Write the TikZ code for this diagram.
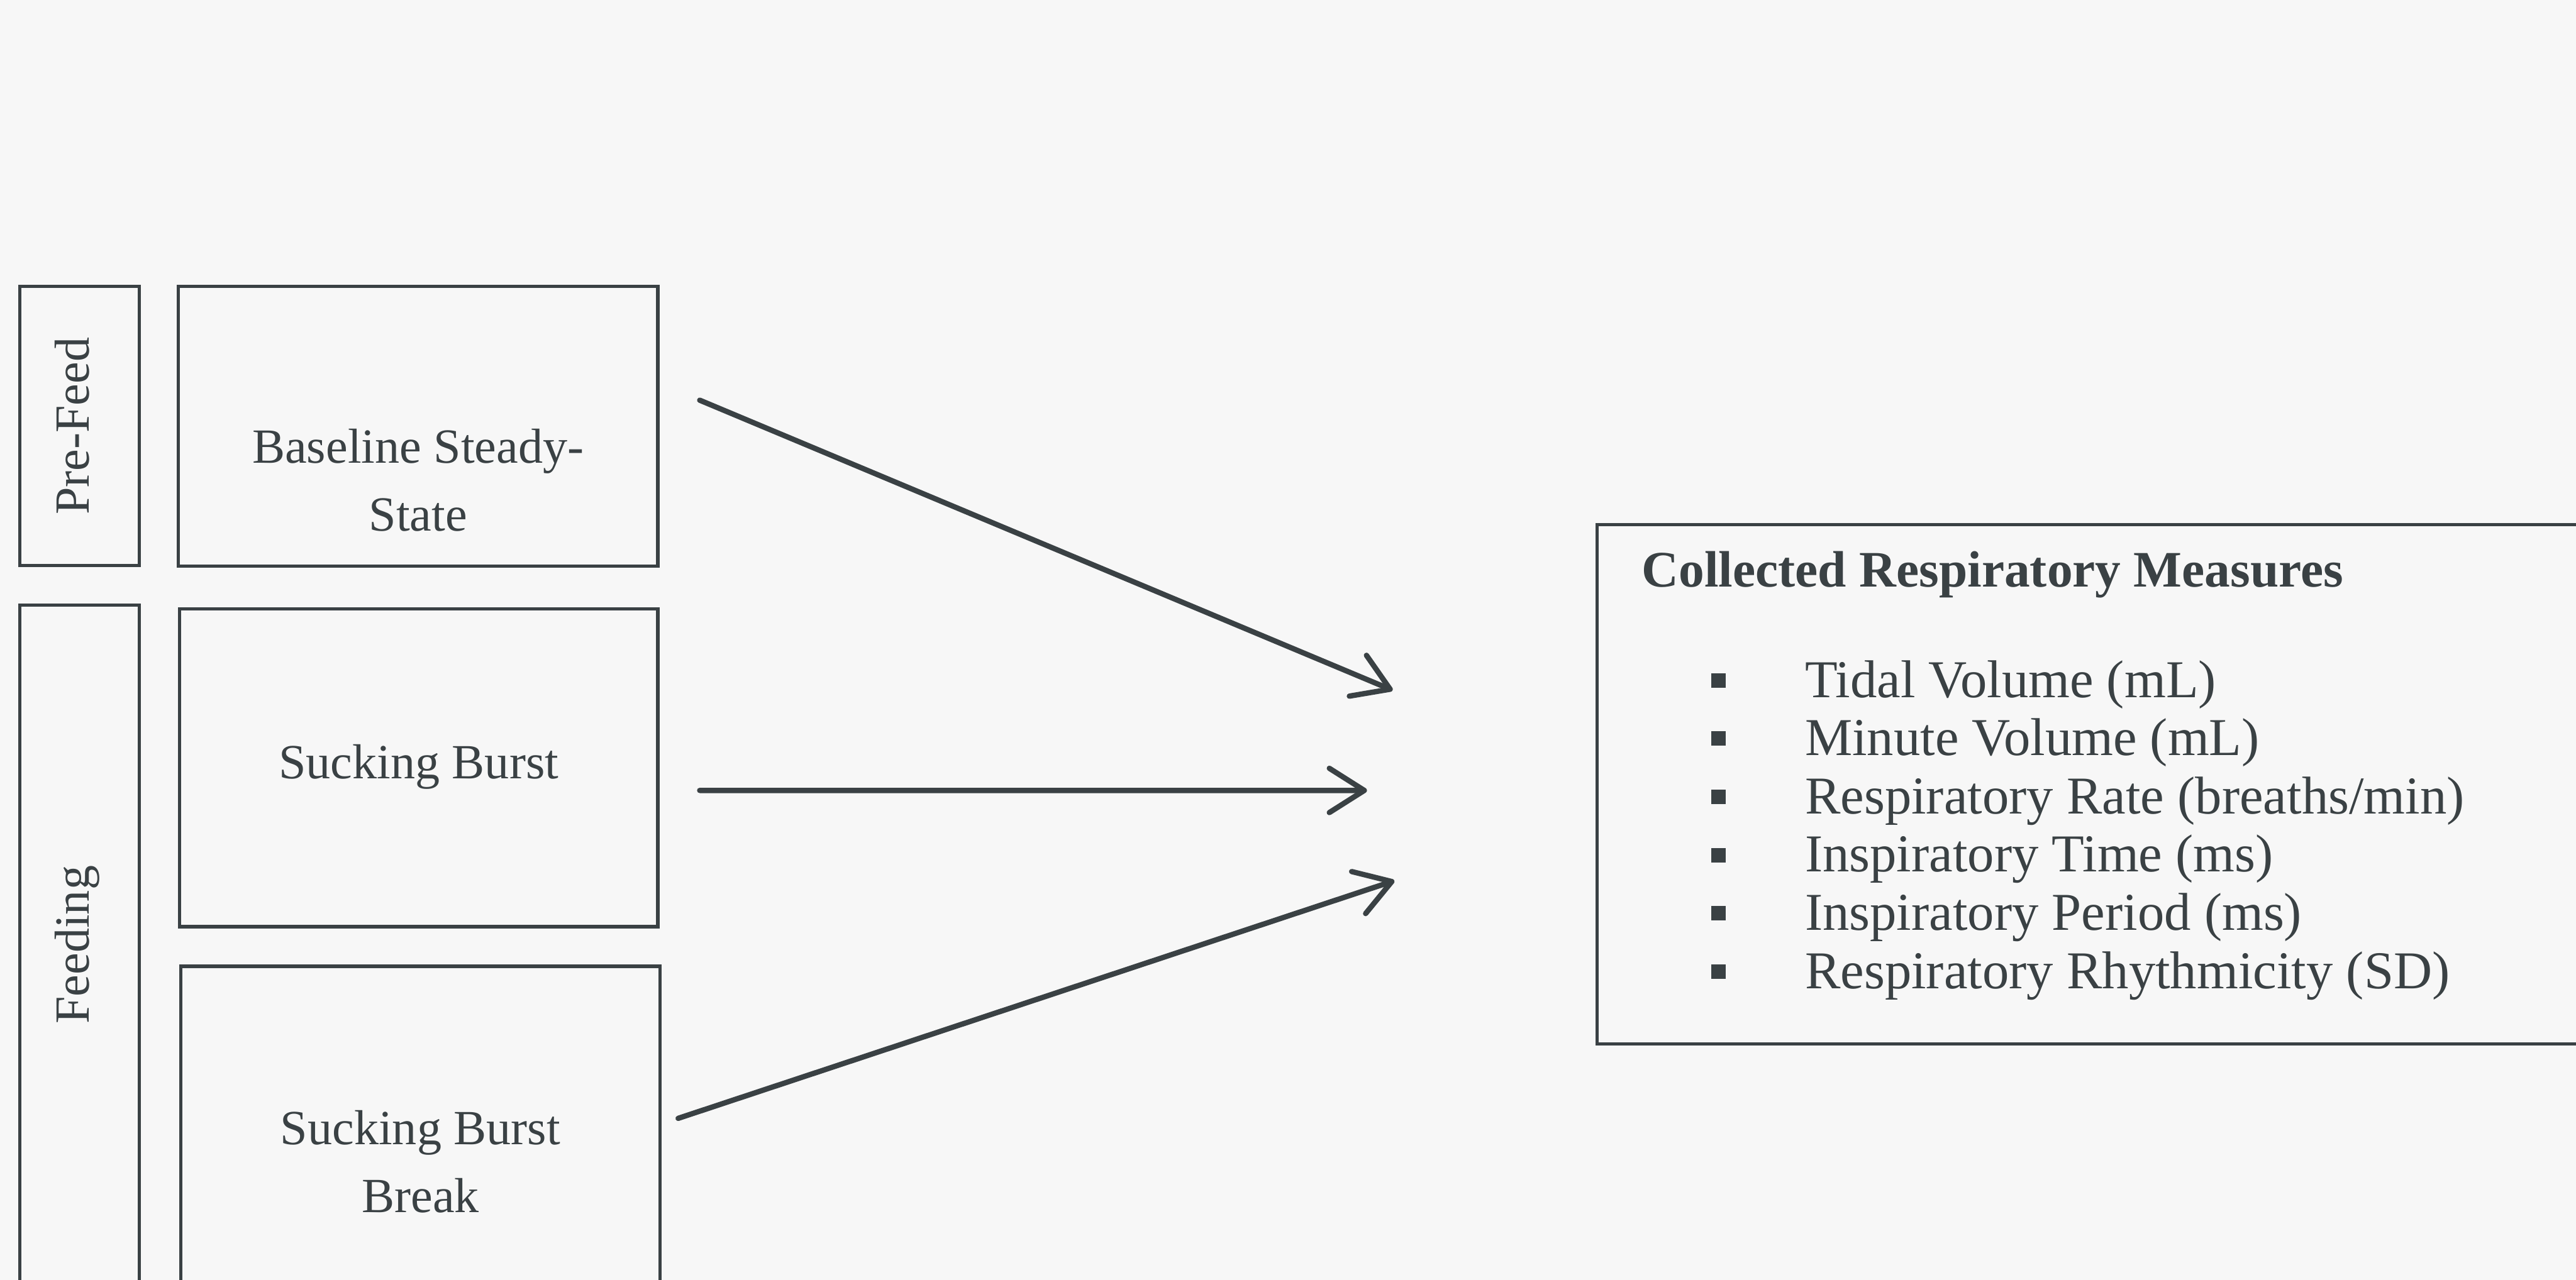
\documentclass[tikz,border=0pt]{standalone}
\usepackage{fontspec}
\setmainfont{Liberation Serif}
\usetikzlibrary{arrows.meta,positioning,calc}
\definecolor{ink}  {HTML}{3A4144}
\definecolor{paper}{HTML}{F7F7F7}

\begin{document}
\begin{tikzpicture}[x=0.5cm,y=-0.5cm,
    phasebox/.style={draw=ink, line width=0.8pt, rotate=90, minimum height=1.025cm,
      inner sep=0pt, text=ink, font=\fontsize{12}{16.6}\selectfont,
      text height=0.7em, text depth=0.25em},
    statebox/.style={draw=ink, line width=0.8pt, inner sep=0pt},
    statetext/.style={text=ink, align=center, font=\fontsize{12}{16.6}\selectfont},
    meastext/.style={text=ink, anchor=base west, font=\fontsize{13}{15}\selectfont},
    flow/.style={ink, line width=1.3pt, line cap=round,
      -{Straight Barb[round, length=3mm, width=3.8mm]}}]
  \fill[paper] (0,0) rectangle (44.21,21.97);
  \clip (0,0) rectangle (44.21,21.97);

  % phases
  \node[phasebox, minimum width=2.395cm] (prefeed) at (1.365,7.315) {Pre-Feed};
  \node[phasebox, minimum width=5.83cm]  (feeding) at (1.365,16.22) {Feeding};

  % states
  \node[statebox, minimum width=4.115cm, minimum height=2.4cm]  (baseline)   at (7.175,7.32)  {};
  \node[statebox, minimum width=4.105cm, minimum height=2.73cm] (burst)      at (7.185,13.18) {};
  \node[statebox, minimum width=4.115cm, minimum height=3.03cm] (burstbreak) at (7.215,19.62) {};
  \node[statetext] (baseline-txt)   at (7.175,8.24)  {Baseline Steady-\\State};
  \node[statetext] (burst-txt)      at (7.185,13.17) {Sucking Burst};
  \node[statetext] (burstbreak-txt) at (7.215,19.94) {Sucking Burst\\Break};

  % measures
  \node[statebox, anchor=north west, minimum width=9.5cm, minimum height=4.455cm]
    (measures) at (27.38,8.98) {};
  \node[text=ink, anchor=base west, font=\bfseries\fontsize{12.5}{15}\selectfont]
    (measures-title) at (27.93,10.07) {Collected Respiratory Measures};
  \foreach \meas [count=\i] in {Tidal Volume (mL), Minute Volume (mL),
      Respiratory Rate (breaths/min), Inspiratory Time (ms),
      Inspiratory Period (ms), Respiratory Rhythmicity (SD)}{
    \node[meastext] (meas\i) at (30.73,{10.97+\i}) {\meas};
    \fill[ink] (29.37,{10.555+\i}) rectangle (29.62,{10.805+\i});
  }

  % arrows
  \coordinate (tip-bs) at (23.90,11.85);
  \coordinate (tip-sb) at (23.46,13.57);
  \coordinate (tip-br) at (23.93,15.12);
  \draw[flow] ($(baseline.east)+(0.69,-0.45)$)   -- (tip-bs);
  \draw[flow] ($(burst.east)+(0.69,0.39)$)       -- (tip-sb);
  \draw[flow] ($(burstbreak.east)+(0.28,-0.42)$) -- (tip-br);
\end{tikzpicture}
\end{document}
